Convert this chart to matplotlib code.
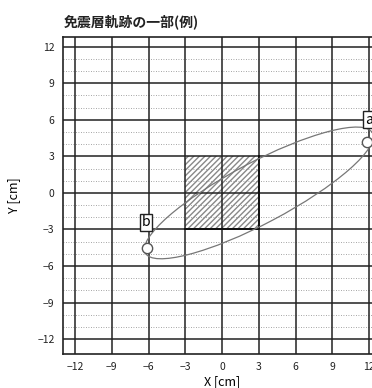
import matplotlib
matplotlib.use("Agg")
import matplotlib.pyplot as plt
from matplotlib.patches import Ellipse, Rectangle
import numpy as np

plt.rcParams['font.family'] = ['Noto Sans CJK JP', 'DejaVu Sans']

# axis ticks
TICKS = [-12, -9, -6, -3, 0, 3, 6, 9, 12]
TICK_LABELS = ["\u221212", "\u22129", "\u22126", "\u22123", "0", "3", "6", "9", "12"]

# isolated square (design range)
SQ_X = [-3, 3]
SQ_Y = [-3, 3]

# trajectory ellipse (center, length, width, angle)
ELL_CENTER = (3.0, 0.0)
ELL_LEN = 21.0
ELL_WID = 5.0
ELL_ANGLE = 28.0

# marked points and their labels
PT_NAMES = ["a", "b"]
PT_X = [11.8, -6.1]
PT_Y = [4.2, -4.5]
LBL_X = [12.0, -6.2]
LBL_Y = [6.0, -2.4]

fig = plt.figure(figsize=(3.72, 3.88), dpi=100)
ax = fig.add_axes([0.169, 0.088, 0.856, 0.817])
ax.set_xlim(-13, 13)
ax.set_ylim(-13.2, 12.8)

# minor dotted rows
for y in range(-12, 13):
  if y % 3 != 0:
    ax.axhline(y, color="#888888", lw=0.6, ls=(0, (1, 2)), zorder=1)
for t in TICKS:
  ax.axvline(t, color="#222222", lw=1.1, zorder=2)
  ax.axhline(t, color="#222222", lw=1.1, zorder=2)

ax.add_patch(Rectangle((SQ_X[0], SQ_Y[0]), SQ_X[1]-SQ_X[0], SQ_Y[1]-SQ_Y[0],
                       facecolor="none", edgecolor="#888888", hatch="//////",
                       lw=0, zorder=1.5))
ax.plot([SQ_X[0], SQ_X[1], SQ_X[1]], [SQ_Y[0], SQ_Y[0], SQ_Y[1]],
        color="#111111", lw=1.4, zorder=2.5)

ax.add_patch(Ellipse(ELL_CENTER, ELL_LEN, ELL_WID, angle=ELL_ANGLE,
                     facecolor="none", edgecolor="#777777", lw=0.9, zorder=3))

ax.scatter(PT_X, PT_Y, s=55, facecolor="white", edgecolor="#555555",
           lw=1.0, zorder=4)
for n, x, y in zip(PT_NAMES, LBL_X, LBL_Y):
  ax.text(x, y, n, fontsize=10, ha="center", va="center", zorder=5,
          bbox=dict(boxstyle="square,pad=0.12", facecolor="white",
                    edgecolor="#222222", lw=1.0))

ax.set_xticks(TICKS)
ax.set_xticklabels(TICK_LABELS)
ax.set_yticks(TICKS)
ax.set_yticklabels(TICK_LABELS)
ax.tick_params(length=0, labelsize=7.5, pad=6, colors="#222222")
for sp in ax.spines.values():
  sp.set_color("#222222")
  sp.set_linewidth(1.2)

ax.set_xlabel("X [cm]", fontsize=9, labelpad=2)
ax.set_ylabel("Y [cm]", fontsize=9, labelpad=12)
fig.text(0.172, 0.945, "免震層軌跡の一部(例)", fontsize=10, fontweight="bold",
         ha="left", va="center", color="#222222")

fig.savefig("out.png", dpi=100)
